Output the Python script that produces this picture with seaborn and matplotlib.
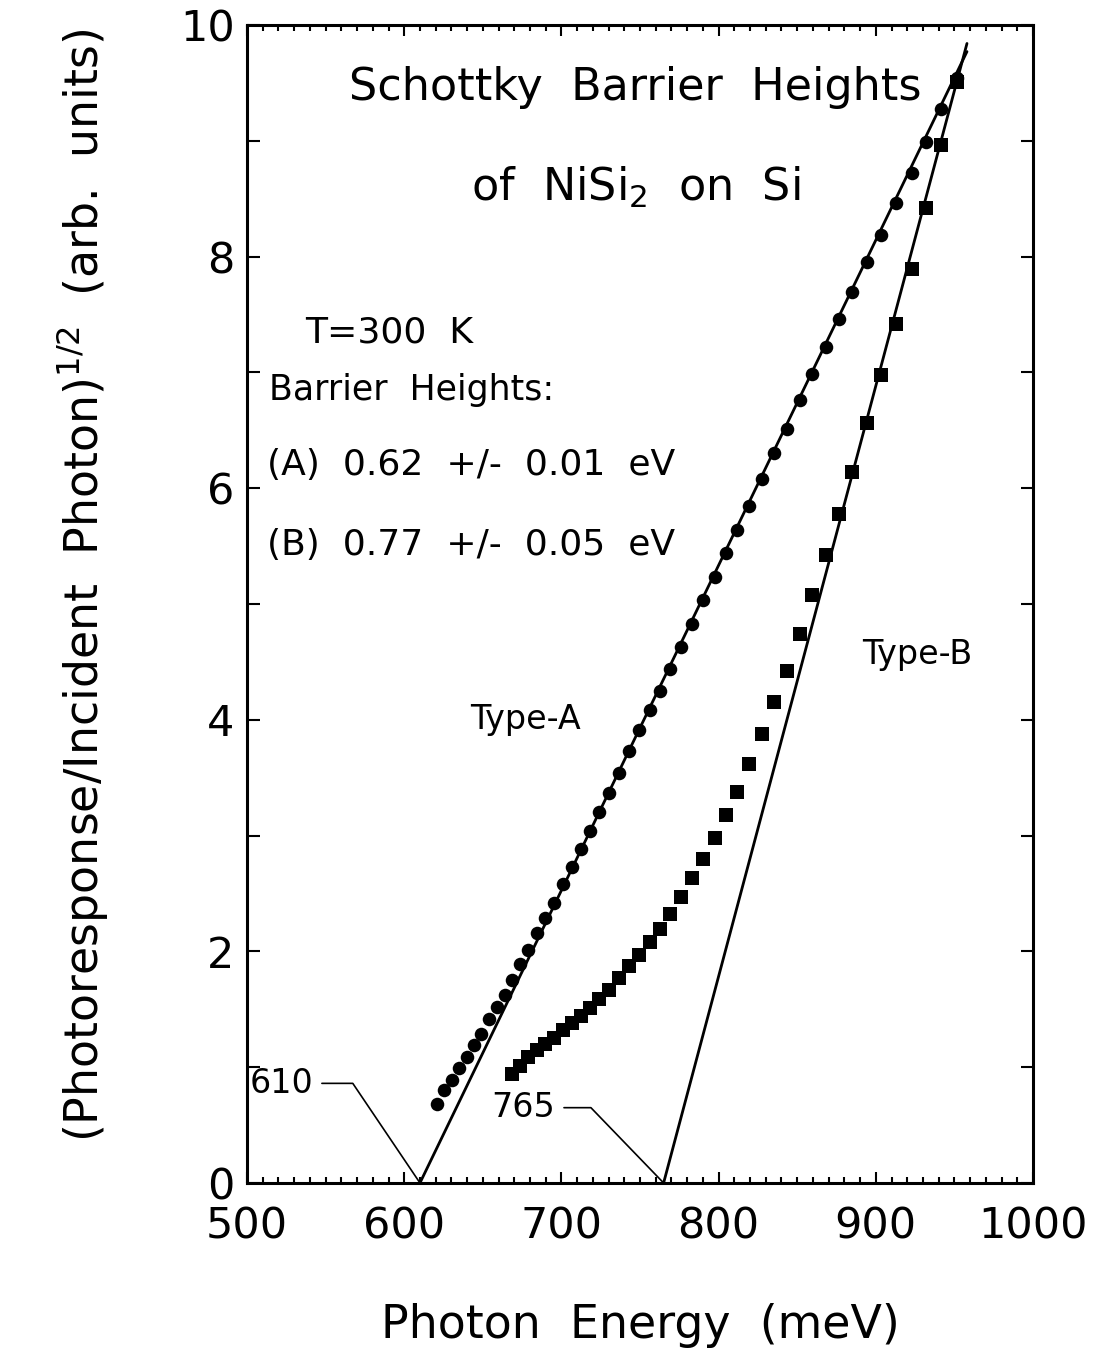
import matplotlib
matplotlib.use("Agg")
import matplotlib.pyplot as plt
from matplotlib.ticker import MultipleLocator
import seaborn as sns

# Photoresponse data
type_a_energy = [620.7, 625.4, 630.3, 635.1, 639.8, 644.3, 649.0, 653.8, 658.8, 663.8,
                 668.8, 673.6, 679.0, 684.4, 689.8, 695.3, 700.8, 706.5, 712.3, 718.1,
                 724.2, 730.4, 736.6, 743.0, 749.5, 756.2, 762.5, 769.0, 775.9, 782.9,
                 790.1, 797.5, 804.8, 811.8, 819.4, 827.6, 835.2, 843.3, 852.0, 859.7,
                 868.2, 876.7, 884.6, 894.4, 903.4, 913.0, 923.0, 931.9, 941.7, 951.5]
type_a_value = [0.68, 0.80, 0.89, 0.99, 1.09, 1.19, 1.29, 1.42, 1.52, 1.62,
                1.75, 1.89, 2.01, 2.16, 2.29, 2.42, 2.58, 2.73, 2.88, 3.04,
                3.20, 3.37, 3.54, 3.73, 3.91, 4.08, 4.25, 4.44, 4.63, 4.83,
                5.03, 5.23, 5.44, 5.64, 5.85, 6.08, 6.30, 6.51, 6.76, 6.99,
                7.22, 7.46, 7.69, 7.95, 8.19, 8.46, 8.72, 8.99, 9.27, 9.54]

type_b_energy = [668.8, 673.6, 679.0, 684.4, 689.8, 695.3, 700.8, 706.5, 712.3, 718.1,
                 724.2, 730.4, 736.6, 743.0, 749.5, 756.2, 762.5, 769.0, 775.9, 782.9,
                 790.1, 797.5, 804.8, 811.8, 819.4, 827.6, 835.2, 843.3, 852.0, 859.7,
                 868.2, 876.7, 884.6, 894.4, 903.4, 913.0, 923.0, 931.9, 941.7, 951.5]
type_b_value = [0.94, 1.01, 1.09, 1.15, 1.20, 1.25, 1.32, 1.38, 1.44, 1.51,
                1.59, 1.67, 1.77, 1.87, 1.97, 2.08, 2.19, 2.32, 2.47, 2.63,
                2.80, 2.98, 3.18, 3.38, 3.62, 3.88, 4.15, 4.42, 4.74, 5.08,
                5.42, 5.78, 6.14, 6.56, 6.98, 7.42, 7.89, 8.42, 8.96, 9.51]

# linear fits (end points)
fit_a_energy = [610, 958]
fit_a_value = [0.0, 9.77]
fit_b_energy = [765, 958]
fit_b_value = [0.0, 9.84]

sns.set_style("ticks")
plt.rcParams['font.family'] = ['DejaVu Sans']
plt.rcParams['text.color'] = 'black'
plt.rcParams['axes.labelcolor'] = 'black'
plt.rcParams['axes.edgecolor'] = 'black'
plt.rcParams['xtick.color'] = 'black'
plt.rcParams['ytick.color'] = 'black'

fig = plt.figure(figsize=(10.98, 13.63), dpi=100)
ax = fig.add_axes([0.225, 0.1321, 0.7158, 0.8496])

sns.lineplot(x=fit_a_energy, y=fit_a_value, color='black', linewidth=2.0, ax=ax)
sns.lineplot(x=fit_b_energy, y=fit_b_value, color='black', linewidth=2.0, ax=ax)
sns.scatterplot(x=type_a_energy, y=type_a_value, marker='o', color='black',
                s=95, linewidth=0, ax=ax, zorder=3)
sns.scatterplot(x=type_b_energy, y=type_b_value, marker='s', color='black',
                s=100, linewidth=0, ax=ax, zorder=3)

ax.set_xlim(500, 1000)
ax.set_ylim(0, 10)
ax.xaxis.set_major_locator(MultipleLocator(100))
ax.xaxis.set_minor_locator(MultipleLocator(10))
ax.yaxis.set_major_locator(MultipleLocator(2))
ax.yaxis.set_minor_locator(MultipleLocator(1))

for s in ax.spines.values():
    s.set_linewidth(2.2)
ax.tick_params(axis='both', which='both', direction='in', top=True, right=True,
               width=1.5, labelsize=31)
ax.tick_params(axis='x', which='major', length=8, pad=16)
ax.tick_params(axis='x', which='minor', length=4)
ax.tick_params(axis='y', which='both', length=9, pad=9)

ax.set_xlabel('Photon  Energy  (meV)', fontsize=33, labelpad=40)
ax.set_ylabel('(Photoresponse/Incident  Photon)$^{1/2}$  (arb.  units)',
              fontsize=33, labelpad=50, y=0.516)

ax.text(747, 9.46, 'Schottky  Barrier  Heights', fontsize=32, ha='center', va='center')
ax.text(747, 8.60, 'of  NiSi$_2$  on  Si', fontsize=32, ha='center', va='center')
ax.text(537, 7.34, 'T=300  K', fontsize=26, ha='left', va='center')
ax.text(514, 6.85, 'Barrier  Heights:', fontsize=25, ha='left', va='center')
ax.text(513, 6.20, '(A)  0.62  +/-  0.01  eV', fontsize=26, ha='left', va='center')
ax.text(513, 5.51, '(B)  0.77  +/-  0.05  eV', fontsize=26, ha='left', va='center')
ax.text(642, 4.00, 'Type-A', fontsize=24, ha='left', va='center')
ax.text(891, 4.56, 'Type-B', fontsize=24, ha='left', va='center')

ax.annotate('610', xy=(610, 0), xytext=(542, 0.86), fontsize=24, ha='right', va='center',
            arrowprops=dict(arrowstyle='-', color='black', lw=1.2, shrinkA=4, shrinkB=0,
                            connectionstyle='angle,angleA=0,angleB=124,rad=0'))
ax.annotate('765', xy=(765, 0), xytext=(696, 0.65), fontsize=24, ha='right', va='center',
            arrowprops=dict(arrowstyle='-', color='black', lw=1.2, shrinkA=4, shrinkB=0,
                            connectionstyle='angle,angleA=0,angleB=134,rad=0'))

plt.savefig('out.png', dpi=100)
